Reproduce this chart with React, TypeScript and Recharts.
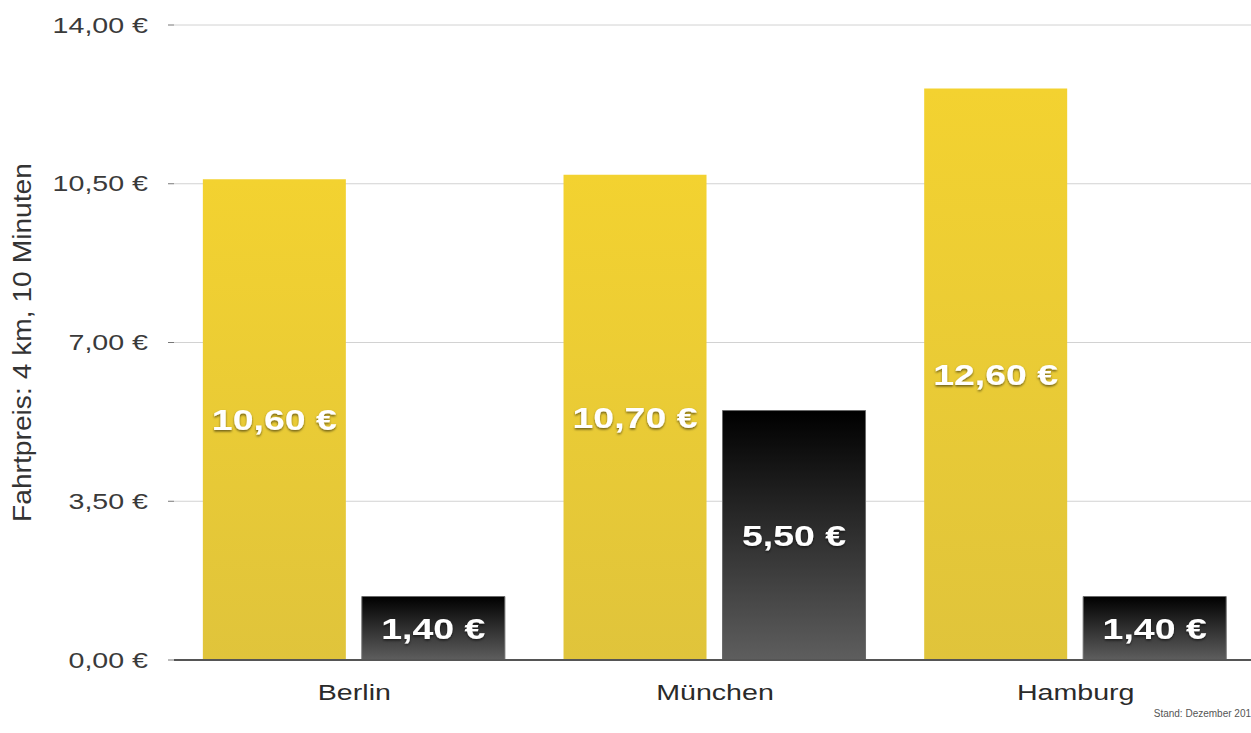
import React from "react";
import { BarChart, Bar, XAxis, YAxis, CartesianGrid, LabelList } from "recharts";

const categories = ["Berlin", "München", "Hamburg"];
const taxiPrices = [10.6, 10.7, 12.6];
const otherPrices = [1.4, 5.5, 1.4];
const yTicks = [0, 3.5, 7, 10.5, 14];
const yAxisTitle = "Fahrtpreis: 4 km, 10 Minuten";
const footnote = "Stand: Dezember 201";

const data = categories.map((c, i) => ({ city: c, taxi: taxiPrices[i], other: otherPrices[i] }));

const fmt = (v: number) => v.toFixed(2).replace(".", ",") + " €";
const FONT = "'Liberation Sans', Arial, Helvetica, sans-serif";
const STRETCH = 1.3;

const YTick = (props: any) => {
  const { x, y, payload } = props;
  return (
    <g transform={`translate(${x},${y})`}>
      <text transform={`scale(${STRETCH},1)`} textAnchor="end" dy="0.35em" fontSize={22} fill="#3a3a3a" fontFamily={FONT}>
        {fmt(payload.value)}
      </text>
    </g>
  );
};

const XTick = (props: any) => {
  const { x, y, payload } = props;
  return (
    <g transform={`translate(${x},${y + 40})`}>
      <text transform={`scale(${STRETCH},1)`} textAnchor="middle" fontSize={22} fill="#2a2a2a" fontFamily={FONT}>
        {payload.value}
      </text>
    </g>
  );
};

const ValueLabel = (props: any) => {
  const { x, y, width, height, value } = props;
  const cx = Number(x) + Number(width) / 2;
  const cy = Number(y) + Number(height) / 2;
  return (
    <g transform={`translate(${cx},${cy})`}>
      <text
        transform={`scale(1.25,1)`}
        textAnchor="middle"
        dy="0.36em"
        fontSize={30}
        fontWeight="bold"
        fill="#ffffff"
        fontFamily={FONT}
        filter="url(#txtShadow)"
      >
        {fmt(Number(value))}
      </text>
    </g>
  );
};

const YTitle = (props: any) => {
  const vb = props.viewBox || { y: 25, height: 635 };
  const cy = vb.y + vb.height / 2;
  return (
    <text
      transform={`translate(31,${cy}) rotate(-90)`}
      textAnchor="middle"
      fontSize={25}
      fill="#333"
      fontFamily={FONT}
      textLength={359}
      lengthAdjust="spacingAndGlyphs"
    >
      {yAxisTitle}
    </text>
  );
};

export default function App() {
  return (
    <div style={{ position: "fixed", left: 0, top: 0, width: 1251, height: 733, overflow: "hidden", background: "#fff" }}>
      <BarChart
        width={1256}
        height={733}
        data={data}
        margin={{ top: 25, right: 0, bottom: 33, left: 0 }}
        barCategoryGap="8%"
        barGap={16}
      >
        <defs>
          <linearGradient id="gradYellow" x1="0" y1="0" x2="0" y2="1">
            <stop offset="0%" stopColor="#f3d230" />
            <stop offset="100%" stopColor="#e0c43b" />
          </linearGradient>
          <linearGradient id="gradBlack" x1="0" y1="0" x2="0" y2="1">
            <stop offset="0%" stopColor="#000000" />
            <stop offset="100%" stopColor="#5e5e5e" />
          </linearGradient>
          <filter id="txtShadow" x="-20%" y="-40%" width="140%" height="180%">
            <feDropShadow dx="0" dy="1.5" stdDeviation="1" floodColor="#000" floodOpacity="0.55" />
          </filter>
        </defs>
        <CartesianGrid horizontal vertical={false} stroke="#d2d2d2" />
        <XAxis
          dataKey="city"
          height={40}
          tickSize={0}
          tickMargin={0}
          axisLine={{ stroke: "#555", strokeWidth: 2 }}
          tickLine={false}
          tick={<XTick />}
          interval={0}
        />
        <YAxis
          width={174}
          domain={[0, 14]}
          ticks={yTicks}
          interval={0}
          axisLine={false}
          tickLine={{ stroke: "#777" }}
          tickSize={6}
          tickMargin={20}
          tick={<YTick />}
          label={{ content: (p: any) => <YTitle {...p} /> }}
        />
        <Bar dataKey="taxi" fill="url(#gradYellow)" isAnimationActive={false}>
          <LabelList dataKey="taxi" content={<ValueLabel />} />
        </Bar>
        <Bar dataKey="other" fill="url(#gradBlack)" stroke="#6a6a6a" strokeWidth={1} isAnimationActive={false}>
          <LabelList dataKey="other" content={<ValueLabel />} />
        </Bar>
      </BarChart>
      <div
        style={{
          position: "absolute",
          right: 0,
          top: 708,
          fontFamily: FONT,
          fontSize: 10,
          color: "#555",
          whiteSpace: "nowrap",
        }}
      >
        {footnote}
      </div>
    </div>
  );
}
